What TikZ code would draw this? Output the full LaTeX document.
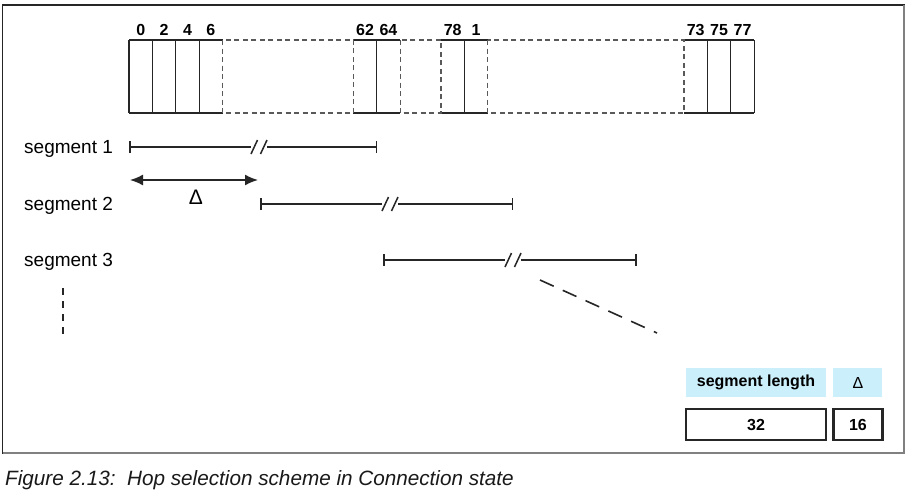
\documentclass[tikz,border=0pt]{standalone}
\usepackage{fontspec}
\setmainfont{Liberation Sans}
\usetikzlibrary{positioning,arrows.meta}

\begin{document}
\begin{tikzpicture}[x=1pt,y=-1pt,
        slot/.style={minimum width=23.4pt,minimum height=73pt,inner sep=0pt,outer sep=0pt},
        num/.style={font=\fontsize{16}{19}\selectfont\bfseries,inner sep=1pt,label distance=3pt},
        wall/.style={draw=black!85,line width=1.2pt},
        gap/.style={draw=black!65,line width=1.1pt,dash pattern=on 5pt off 3.5pt},
        seglabel/.style={anchor=base west,font=\fontsize{19}{22}\selectfont,inner sep=0pt},
        seg/.style={draw=black!85,line width=1.8pt},
        more/.style={draw=black!85,line width=1.6pt},
        hd/.style={fill=cyan!20,minimum height=29pt,inner sep=0pt,font=\fontsize{16}{19}\selectfont\bfseries},
        val/.style={draw=black!85,line width=2.2pt,minimum height=31pt,inner sep=0pt,font=\fontsize{16}{19}\selectfont\bfseries}]

    \fill[white] (0,0) rectangle (908,493);

    % frame
    \draw[black!85,line width=1.2pt] (2.5,5) rectangle (904,453);
    \draw[black!50,line width=2.2pt] (904,5) -- (904,453) -- (2.5,453);

    % slots
    \foreach \n/\x in {0/129,2/152.4,4/175.8,6/199.2,62/353.3,64/376.7,78/441,1/464.4,73/684,75/707.4,77/730.8}
        \node[slot,label={[num]above:\n}] (s\n) at (\x+11.7,76.5) {};

    \draw[wall] (s0.north west) -- (s6.north east) (s0.south west) -- (s6.south east);
    \draw[wall] (s62.north west) -- (s64.north east) (s62.south west) -- (s64.south east);
    \draw[wall] (s78.north west) -- (s1.north east) (s78.south west) -- (s1.south east);
    \draw[wall] (s73.north west) -- (s77.north east) (s73.south west) -- (s77.south east);
    \foreach \n in {0,2,4,6,64,1,75,77}
        \draw[wall] (s\n.north west) -- (s\n.south west);
    \draw[wall] (s77.north east) -- (s77.south east);

    \draw[gap] (s6.north east) rectangle (s62.south west);
    \draw[gap] (s64.north east) rectangle (s78.south west);
    \draw[gap] (s1.north east) rectangle (s73.south west);

    % segments
    \foreach \i/\xa/\xb/\c/\y in {1/129/377.3/259/147,2/260/513.3/390/204,3/382.7/636.7/513/260}{
        \node[seglabel] (seglbl\i) at (24,\y+6.5) {segment \i};
        \coordinate (seg\i a) at (\xa,\y);
        \coordinate (seg\i b) at (\xb,\y);
        \coordinate (brk\i) at (\c,\y);
        \draw[seg,{Bar[width=12pt]}-] (seg\i a) -- ([xshift=-8pt]brk\i);
        \draw[seg,-{Bar[width=12pt]}] ([xshift=8pt]brk\i) -- (seg\i b);
        \draw[seg,line width=1.5pt] ([xshift=-8pt,yshift=-7pt]brk\i) -- ++(6.5pt,14pt);
        \draw[seg,line width=1.5pt] ([xshift=1.5pt,yshift=-7pt]brk\i) -- ++(6.5pt,14pt);
    }

    % delta
    \coordinate (dla) at (130,180);
    \coordinate (dlb) at (258,180);
    \draw[seg,line width=1.6pt,{Latex[length=13pt,width=11pt]}-{Latex[length=13pt,width=11pt]}] (dla) -- (dlb);
    \node[font=\fontsize{21}{24}\selectfont,inner sep=0pt] (dlbl) at (196,197.5) {Δ};

    % and so on
    \coordinate (mv1) at (63,288);
    \coordinate (mv2) at (63,334);
    \draw[more,dash pattern=on 7pt off 6pt] (mv1) -- (mv2);
    \coordinate (md1) at (540,280);
    \coordinate (md2) at (657,333);
    \draw[more,dash pattern=on 15pt off 10pt] (md1) -- (md2);

    % table
    \node[hd,minimum width=140pt] (hdlen) at (756,382.5) {segment length};
    \node[hd,minimum width=49pt,right=7pt of hdlen,font=\fontsize{16}{19}\selectfont] (hddelta) {Δ};
    \node[val,minimum width=140pt,below=11pt of hdlen] (vlen) {32};
    \node[val,minimum width=49pt,below=11pt of hddelta] (vdelta) {16};

    % caption
    \node[anchor=base west,inner sep=0pt,font=\fontsize{20.7}{24}\selectfont\itshape,text=black!90] (caption) at (5,485)
        {Figure 2.13:\ \ Hop selection scheme in Connection state};
\end{tikzpicture}
\end{document}
